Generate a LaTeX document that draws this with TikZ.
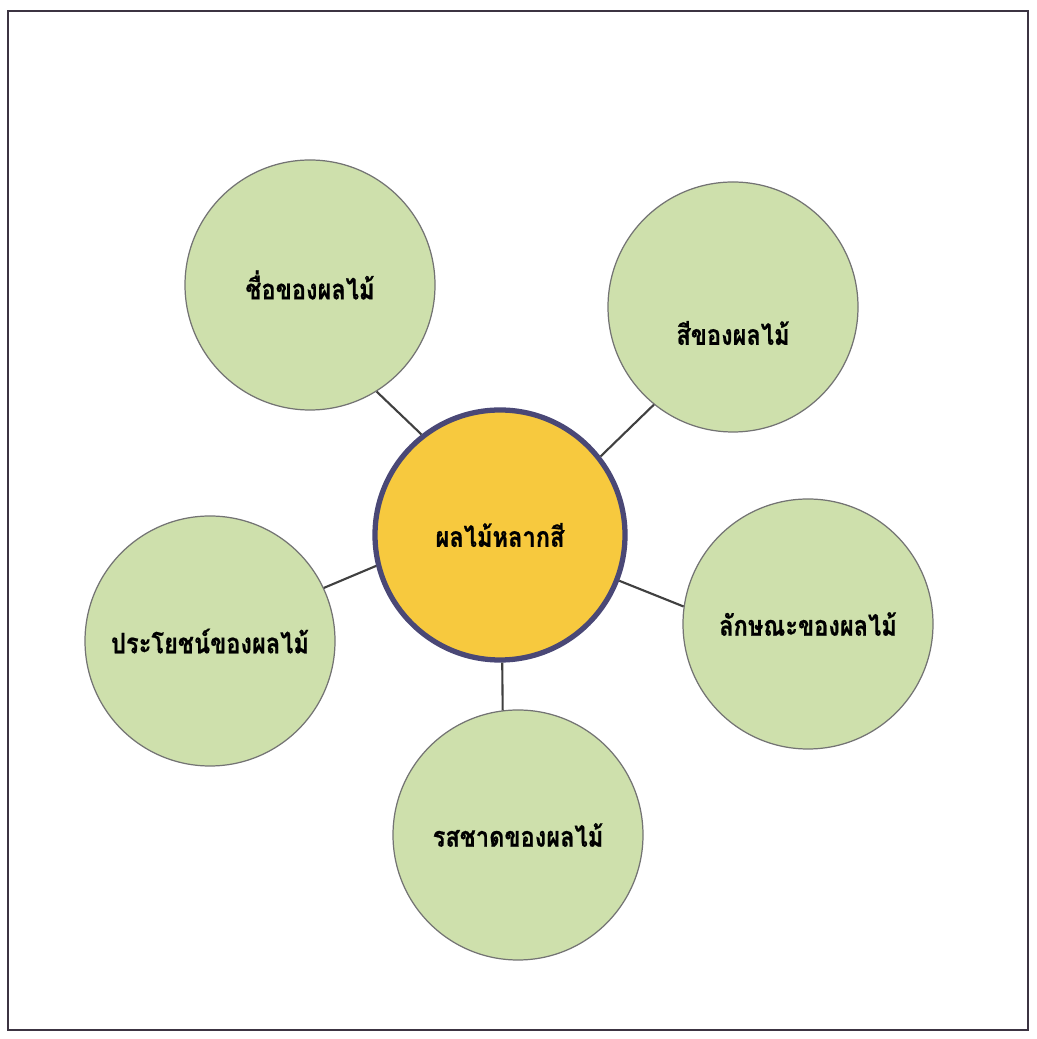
\documentclass[tikz,border=0pt]{standalone}
\usepackage{fontspec}
\newfontfamily\thaifont[Script=Thai, FakeStretch=0.84, FakeBold=0.6]{Loma}
\usepackage{tikz}
\definecolor{leafgreen}{RGB}{206,224,172}
\definecolor{sunyellow}{RGB}{247,201,62}
\definecolor{rimblue}{RGB}{74,72,118}
\definecolor{framegray}{RGB}{60,52,66}

\begin{document}
\begin{tikzpicture}[
    topic/.style={circle, draw=black!55, line width=0.35pt, fill=leafgreen,
        minimum size=2.5cm, inner sep=0pt, font=\thaifont\bfseries\fontsize{8}{10}\selectfont},
    hub/.style={circle, draw=rimblue, line width=1.5pt, fill=sunyellow,
        minimum size=2.5cm, inner sep=0pt, font=\thaifont\bfseries\fontsize{8}{10}\selectfont},
    spoke/.style={draw=black!75, line width=0.6pt}
]
    \useasboundingbox (0,0) rectangle (10.37,10.39);
    % Frame
    \draw[framegray, line width=0.8pt] (0.08,0.09) rectangle (10.28,10.28);

    % Hub and topics
    \node[hub] (fruit) at (5.00, 5.04) {ผลไม้หลากสี};
    \node[topic] (name) at (3.10, 7.54) {ชื่อของผลไม้};
    \node[topic, label={[font=\thaifont\bfseries\fontsize{8}{10}\selectfont, yshift=-0.26cm]center:สีของผลไม้}] (colour) at (7.33, 7.32) {};
    \node[topic] (shape) at (8.08, 4.15) {ลักษณะของผลไม้};
    \node[topic] (taste) at (5.18, 2.04) {รสชาดของผลไม้};
    \node[topic] (use) at (2.10, 3.98) {ประโยชน์ของผลไม้};

    % Spokes
    \draw[spoke] (fruit.128) -- (name.-58);
    \draw[spoke] (fruit.38) -- (colour.-129);
    \draw[spoke] (fruit.-21) -- (shape.172);
    \draw[spoke] (fruit.-89) -- (taste.97);
    \draw[spoke] (fruit.194) -- (use.25);
\end{tikzpicture}
\end{document}
